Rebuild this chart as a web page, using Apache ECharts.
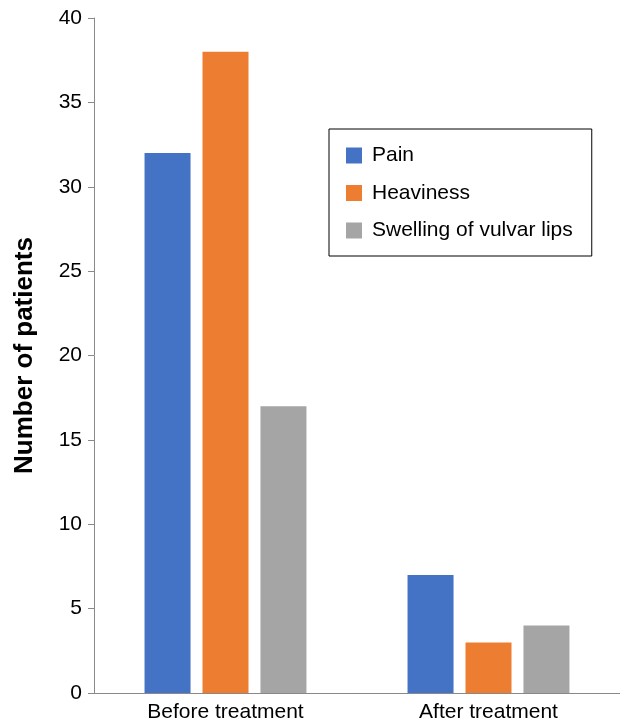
<!DOCTYPE html>
<html>
<head>
<meta charset="utf-8">
<script src="https://cdn.jsdelivr.net/npm/echarts@6/dist/echarts.min.js"></script>
<style>html,body{margin:0;padding:0;background:#fff}#c{width:620px;height:723px}</style>
</head>
<body>
<div id="c"></div>
<script>
var categories = ['Before treatment', 'After treatment'];
var seriesNames = ['Pain', 'Heaviness', 'Swelling of vulvar lips'];
var painValues = [32, 7];
var heavinessValues = [38, 3];
var swellingValues = [17, 4];
var yTicks = [0, 5, 10, 15, 20, 25, 30, 35, 40];
var colors = ['#4472C4', '#ED7D31', '#A5A5A5'];

var chart = echarts.init(document.getElementById('c'));
var font = 'Liberation Sans, Arial, sans-serif';
var values = [painValues, heavinessValues, swellingValues];
chart.setOption({
  animation: false,
  backgroundColor: '#fff',
  color: colors,
  grid: { left: 94, top: 18, width: 530, height: 676 },
  legend: {
    orient: 'vertical',
    left: 329, top: 129,
    padding: [16, 19, 15, 17],
    borderColor: '#000', borderWidth: 1,
    itemWidth: 16, itemHeight: 16, itemGap: 16.5,
    icon: 'rect',
    textStyle: { fontFamily: font, fontSize: 21, color: '#000', lineHeight: 21, padding: [0, 0, 0, 5] },
    data: seriesNames
  },
  xAxis: {
    type: 'category',
    data: categories,
    axisLine: { lineStyle: { color: '#898989', width: 1 } },
    axisTick: { show: false },
    axisLabel: { fontFamily: font, fontSize: 21, color: '#000', margin: 9 }
  },
  yAxis: {
    type: 'value',
    min: yTicks[0], max: yTicks[yTicks.length - 1], interval: 5,
    name: 'Number of patients',
    nameLocation: 'middle',
    nameGap: 56,
    nameTextStyle: { fontFamily: font, fontSize: 26, fontWeight: 'bold', color: '#000' },
    axisLine: { show: true, lineStyle: { color: '#898989', width: 1 } },
    axisTick: { show: true, length: 6, lineStyle: { color: '#898989' } },
    splitLine: { show: false },
    axisLabel: { fontFamily: font, fontSize: 21, color: '#000', margin: 12 }
  },
  series: seriesNames.map(function (n, i) {
    return { name: n, type: 'bar', data: values[i], barWidth: 46, barGap: '26%' };
  })
});
</script>
</body>
</html>
